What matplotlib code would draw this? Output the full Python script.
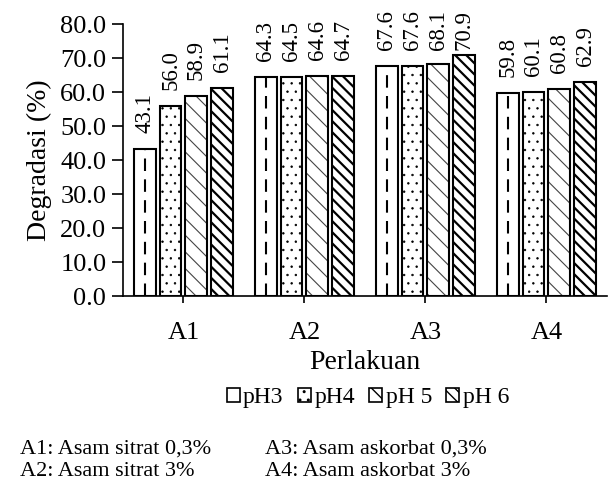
import numpy as np
import matplotlib as mpl
import matplotlib.pyplot as plt
from matplotlib.patches import Patch

plt.rcParams['font.family'] = ['Liberation Serif', 'DejaVu Serif']

categories = ['A1', 'A2', 'A3', 'A4']
series = ['pH3', 'pH4', 'pH 5', 'pH 6']
ph3 = [43.1, 64.3, 67.6, 59.8]
ph4 = [56.0, 64.5, 67.6, 60.1]
ph5 = [58.9, 64.6, 68.1, 60.8]
ph6 = [61.1, 64.7, 70.9, 62.9]
yticks = [0, 10, 20, 30, 40, 50, 60, 70, 80]
notes_left = ['A1: Asam sitrat 0,3%', 'A2: Asam sitrat 3%']
notes_right = ['A3: Asam askorbat 0,3%', 'A4: Asam askorbat 3%']

fig = plt.figure(figsize=(6.1, 4.97), dpi=100)
ax = fig.add_axes([0.2016, 0.4044, 0.7934, 0.5473])

x = np.arange(len(categories))
pitch = 0.213
width = 0.18
values = [ph3, ph4, ph5, ph6]
hatches = [None, '..', '\\\\', '\\\\\\']
hatch_cols = ['black', 'black', '#444444', 'black']
hatch_lw = [1.0, 0.5, 0.8, 1.6]

for i, vals in enumerate(values):
    pos = x + (i - 1.5) * pitch
    with mpl.rc_context({'hatch.linewidth': hatch_lw[i]}):
        ax.bar(pos, vals, width, color='white', edgecolor=hatch_cols[i], hatch=hatches[i],
               linewidth=0, zorder=2)
    bars = ax.bar(pos, vals, width, fill=False, edgecolor='black', linewidth=1.5, zorder=3)
    if i == 0:
        # dashed line down the middle of each bar
        for b in bars:
            cx = b.get_x() + b.get_width() / 2
            ax.plot([cx, cx], [0, b.get_height()], color='black', lw=1.5,
                    dashes=(6, 4), zorder=3)

    for px, v in zip(pos, vals):
        ax.text(px, min(v + 4.7, 72.3), f'{v:.1f}', rotation=90, ha='center',
                va='bottom', fontsize=16.5, zorder=4)

ax.set_xlim(-0.5, 3.5)
ax.set_ylim(0, 80)
ax.set_yticks(yticks)
ax.set_yticklabels([f'{t:.1f}' for t in yticks], fontsize=19)
ax.set_xticks(x)
ax.set_xticklabels(categories, fontsize=19)
ax.tick_params(axis='y', direction='out', length=8, width=1.2, pad=4)
ax.tick_params(axis='x', direction='out', length=5, width=1.2, pad=14)
for s in ['top', 'right']:
    ax.spines[s].set_visible(False)
for s in ['left', 'bottom']:
    ax.spines[s].set_linewidth(1.2)

ax.set_ylabel('Degradasi (%)', fontsize=20, labelpad=6)
ax.set_xlabel('Perlakuan', fontsize=20, labelpad=4)

handles = []
for h, s, lw in zip(hatches, series, hatch_lw):
    with mpl.rc_context({'hatch.linewidth': lw}):
        handles.append(Patch(facecolor='white', edgecolor='black', linewidth=1.2,
                             hatch=h, label=s))
fig.legend(handles=handles, loc='center', bbox_to_anchor=(0.603, 0.2), ncol=4,
           frameon=False, fontsize=17, handlelength=0.55, handleheight=0.55,
           handletextpad=0.15, columnspacing=0.6)

for k in range(2):
    yy = 1 - (449 + 22 * k) / 497
    fig.text(20 / 610, yy, notes_left[k], fontsize=16, va='center', ha='left')
    fig.text(265 / 610, yy, notes_right[k], fontsize=16, va='center', ha='left')

fig.savefig('out.png', dpi=100)
